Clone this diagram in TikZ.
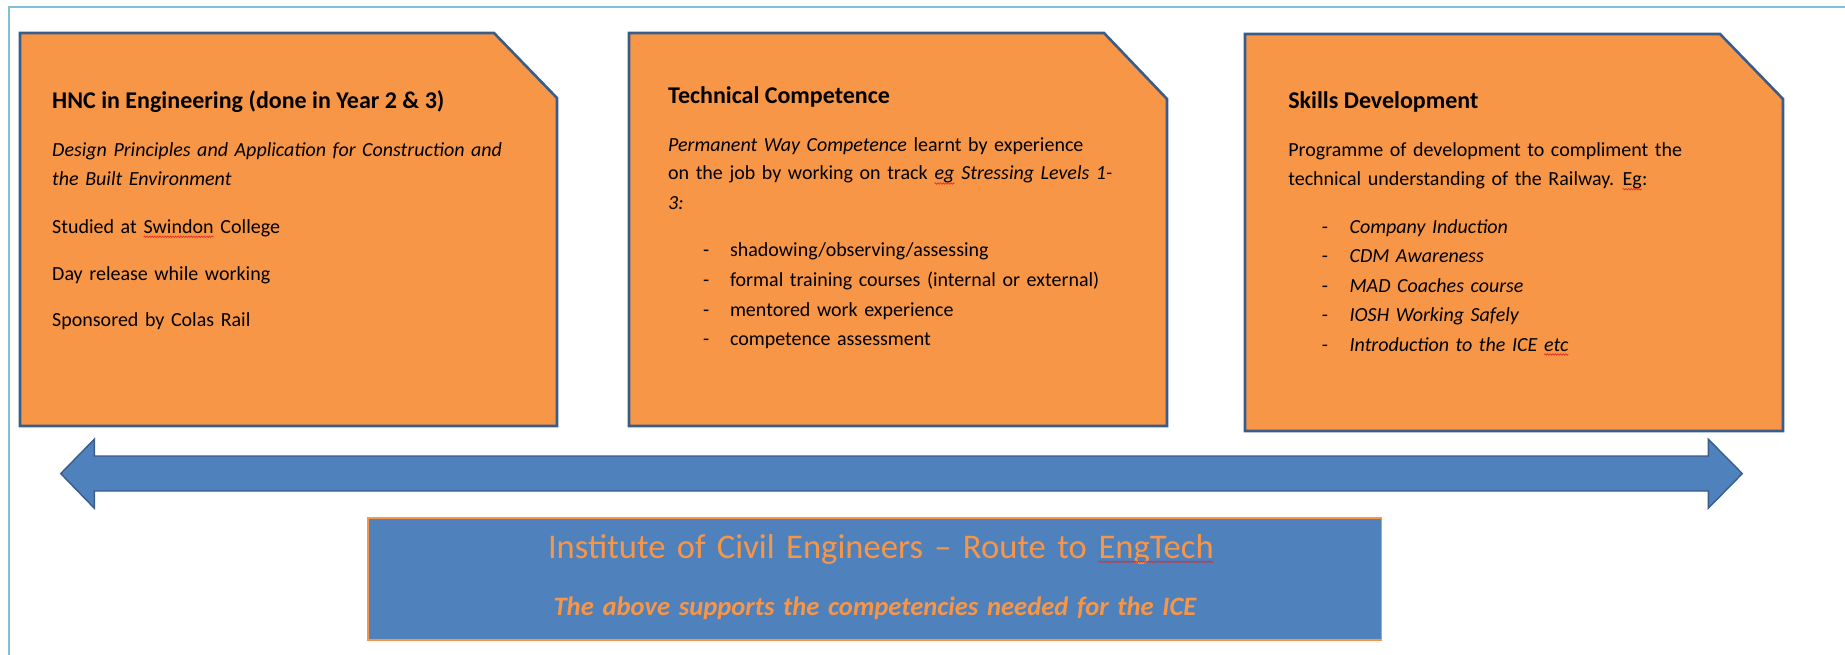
\documentclass[tikz,border=0pt]{standalone}
\usepackage{fontspec}
\setmainfont{Carlito}[WordSpace=1.45]
\newfontfamily\headfont{Carlito}
\usetikzlibrary{decorations.pathmorphing}

\definecolor{cardfill}{HTML}{F79646}
\definecolor{cardline}{HTML}{385D8A}
\definecolor{bluefill}{HTML}{4F81BD}
\definecolor{framecol}{HTML}{7DC3D5}
\definecolor{spellred}{HTML}{E02828}

% word with a red wavy spell-check underline
\newcommand\spellmark[1]{\tikz[baseline=(sw.base)]{%
  \node[inner sep=0pt,outer sep=0pt] (sw) {#1};
  \draw[spellred,line width=0.6pt,decorate,
        decoration={snake,amplitude=0.8pt,segment length=2.6pt}]
    ([yshift=-3.5pt]sw.base west) -- ([yshift=-3.5pt]sw.base east);}}

\tikzset{
  card/.style={fill=cardfill, draw=cardline, line width=2.6pt, line join=miter},
  bigarrow/.style={fill=bluefill, draw=cardline, line width=1.4pt, line join=miter},
  banner/.style={fill=bluefill, draw=cardfill, line width=1.4pt},
  body/.style={anchor=base west, inner sep=0pt, outer sep=0pt,
               font=\fontsize{20}{24}\selectfont},
  head/.style={body, font=\fontsize{24}{28}\selectfont\headfont\bfseries},
  dashmark/.style={body},
  bannertitle/.style={anchor=base, inner sep=0pt, text=cardfill,
               font=\fontsize{34.6}{40}\selectfont},
  bannersub/.style={anchor=base, inner sep=0pt, text=cardfill,
               font=\fontsize{26.6}{30}\selectfont\bfseries\itshape},
}

\begin{document}
\begin{tikzpicture}[x=1pt,y=-1pt]
\useasboundingbox (0,0) rectangle (1845,655);

% page frame
\draw[framecol, line width=1.5pt] (9,655) -- (9,7) -- (1845,7);

% three cards with a clipped top-right corner
\draw[card] (20,33) -- (494,33) -- (557,98) -- (557,426) -- (20,426) -- cycle;
\draw[card] (629,33) -- (1104,33) -- (1167,99) -- (1167,426) -- (629,426) -- cycle;
\draw[card] (1245,34) -- (1720,34) -- (1783,99) -- (1783,431) -- (1245,431) -- cycle;

% card 1: HNC
\node[head] (h1) at (52.2,108.3) {HNC in Engineering (done in Year 2 \& 3)};
\node[body] (a1) at (52.2,156.7) {\itshape Design Principles and Application for Construction and};
\node[body] (a2) at (52.2,185.7) {\itshape the Built Environment};
\node[body] (a3) at (52.2,233.3) {Studied at \spellmark{Swindon} College};
\node[body] (a4) at (52.2,280.0) {Day release while working};
\node[body] (a5) at (52.2,326.7) {Sponsored by Colas Rail};

% card 2: technical competence
\node[head] (h2) at (668.2,103.3) {Technical Competence};
\node[body] (b1) at (668.2,151.7) {\textit{Permanent Way Competence} learnt by experience};
\node[body] (b2) at (668.2,180.0) {on the job by working on track \textit{\spellmark{eg} Stressing Levels 1-}};
\node[body] (b3) at (668.2,209.3) {\itshape 3:};
\foreach \yy/\tt [count=\i] in {256.7/{shadowing/observing/assessing},
    286.7/{formal training courses (internal or external)},
    316.0/{mentored work experience},
    345.0/{competence assessment}} {
  \node[dashmark] (bd\i) at (703,\yy) {-};
  \node[body] (bt\i) at (730,\yy) {\tt};
}

% card 3: skills development
\node[head] (h3) at (1288.3,108.3) {Skills Development};
\node[body] (c1) at (1288.3,156.7) {Programme of development to compliment the};
\node[body] (c2) at (1288.3,185.7) {technical understanding of the Railway. \spellmark{Eg}:};
\foreach \yy/\tt [count=\i] in {233.3/{Company Induction},
    262.7/{CDM Awareness},
    292.7/{MAD Coaches course},
    321.7/{IOSH Working Safely},
    351.0/{Introduction to the ICE \spellmark{etc}}} {
  \node[dashmark] (cd\i) at (1321.9,\yy) {-};
  \node[body] (ct\i) at (1349.6,\yy) {\itshape \tt};
}

% double-headed block arrow
\draw[bigarrow] (60.7,473.6) -- (94.3,439.2) -- (94.3,456) -- (1708.3,456)
  -- (1708.3,439.2) -- (1742.3,473.6) -- (1708.3,508.2) -- (1708.3,491)
  -- (94.3,491) -- (94.3,508.2) -- cycle;

% banner
\draw[banner] (368,518) rectangle (1381.5,640);
\node[bannertitle] (t1) at (881,558.3) {Institute of Civil Engineers -- Route to \spellmark{EngTech}};
\node[bannersub] (t2) at (875,615.7) {The above supports the competencies needed for the ICE};
\end{tikzpicture}
\end{document}
